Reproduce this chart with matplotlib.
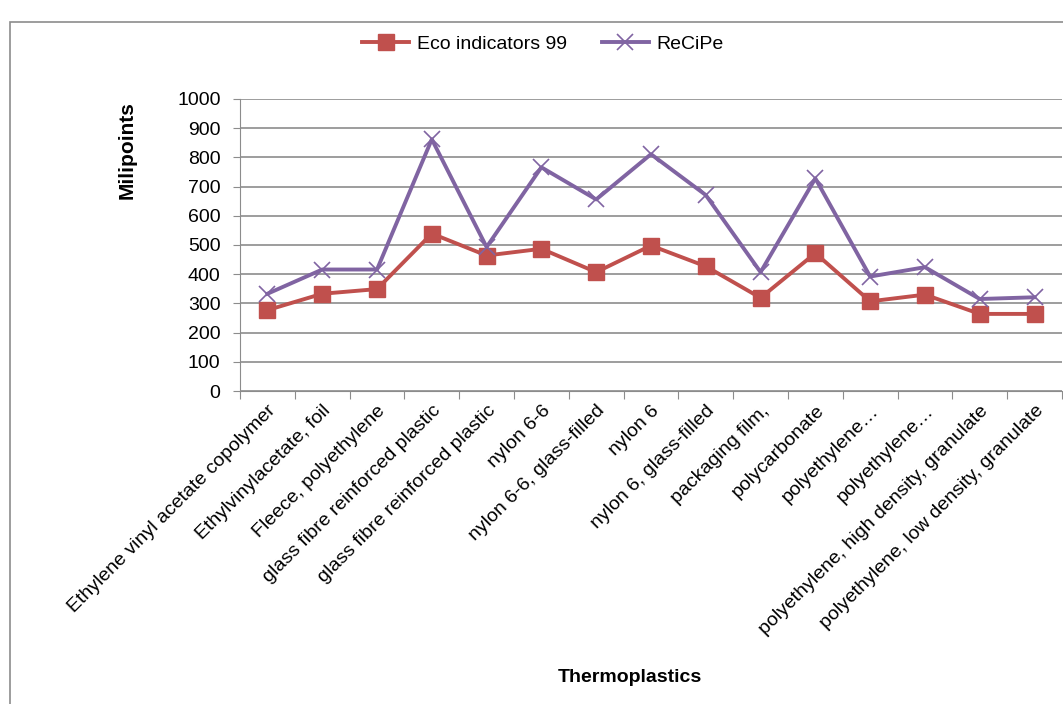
import matplotlib.pyplot as plt
from matplotlib.patches import Rectangle

plt.rcParams['font.family'] = ['Liberation Sans', 'DejaVu Sans']

categories = ['Ethylene vinyl acetate copolymer', 'Ethylvinylacetate, foil',
              'Fleece, polyethylene', 'glass fibre reinforced plastic',
              'glass fibre reinforced plastic', 'nylon 6-6', 'nylon 6-6, glass-filled',
              'nylon 6', 'nylon 6, glass-filled', 'packaging film,', 'polycarbonate',
              'polyethylene\u2026', 'polyethylene\u2026',
              'polyethylene, high density, granulate', 'polyethylene, low density, granulate']
eco99 = [277, 333, 349, 539, 464, 487, 407, 498, 427, 319, 472, 307, 330, 264, 264]
recipe = [333, 416, 416, 862, 493, 766, 656, 811, 671, 407, 728, 392, 424, 315, 321]

fig = plt.figure(figsize=(10.63, 7.04), dpi=100)
ax = fig.add_axes([0.2258, 0.4446, 0.7732, 0.4148])

# outer chart border
fig.patches.append(Rectangle((10 / 1063, -0.01), 1.1, 1 - 22 / 704 + 0.01,
                             transform=fig.transFigure, fill=False,
                             edgecolor='#8c8c8c', linewidth=1.2))

x = list(range(len(categories)))
ax.plot(x, eco99, color='#c0504d', linewidth=2.8, marker='s', markersize=12,
        label='Eco indicators 99')
ax.plot(x, recipe, color='#8064a2', linewidth=2.8, marker='x', markersize=12,
        markeredgewidth=1.2, label='ReCiPe')

ax.set_xlim(-0.5, len(categories) - 0.5)
ax.set_ylim(0, 1000)
ax.set_yticks(range(0, 1001, 100))
ax.yaxis.grid(True, color='#8c8c8c', linewidth=1.2)
ax.set_axisbelow(True)
ax.set_xticks([i - 0.5 for i in range(len(categories) + 1)])
ax.set_xticklabels([])
ax.set_xticks(x, minor=True)
ax.set_xticklabels(categories, minor=True, rotation=45, ha='right',
                   rotation_mode='anchor', fontsize=14)
ax.tick_params(axis='x', which='minor', length=0, pad=8)
ax.tick_params(axis='x', which='major', length=6, color='#8c8c8c')
ax.tick_params(axis='y', length=5, color='#8c8c8c', labelsize=14, pad=9)
for s in ['top', 'right']:
    ax.spines[s].set_visible(False)
ax.spines['left'].set_color('#8c8c8c')
ax.spines['bottom'].set_color('#8c8c8c')

fig.text(127 / 1063, 1 - 150 / 704, 'Milipoints', rotation=90, ha='center',
         va='center', fontsize=15, fontweight='bold')
fig.text(630 / 1063, 1 - 677 / 704, 'Thermoplastics', ha='center', va='center',
         fontsize=14, fontweight='bold')

fig.legend(loc='center', bbox_to_anchor=(543 / 1063, 1 - 44 / 704), ncol=2,
           frameon=False, fontsize=14, handlelength=2.4, handletextpad=0.4,
           columnspacing=1.8)

plt.savefig('out.png', dpi=100)
